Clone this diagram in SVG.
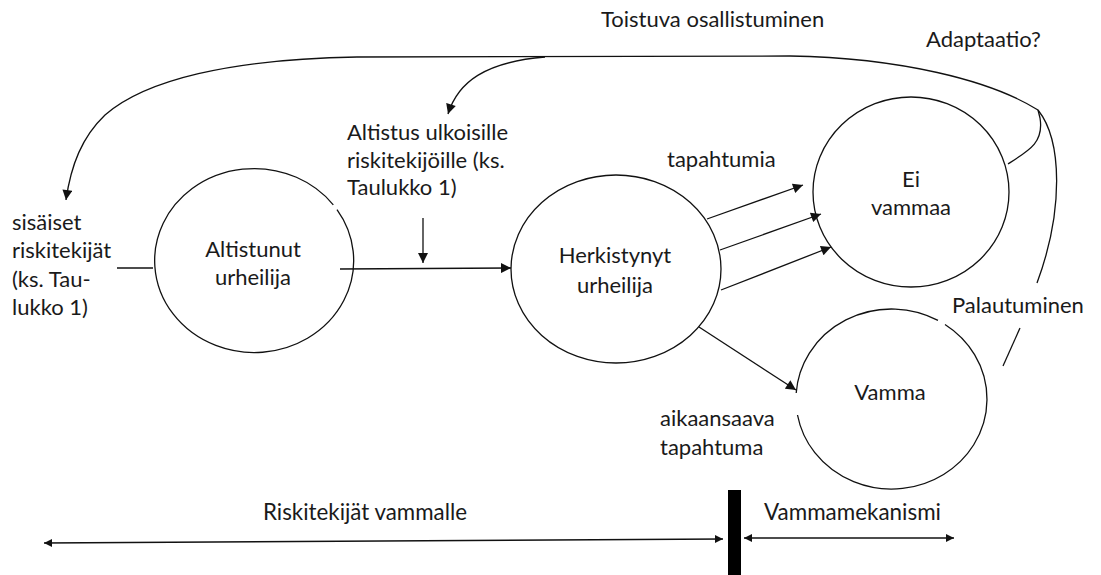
<svg xmlns="http://www.w3.org/2000/svg" width="1101" height="575" viewBox="0 0 1101 575">
<style>
  text { font-family: Lato, "Liberation Sans", sans-serif; font-size: 22px; fill: #1a1a1a; }
  .mid { text-anchor: middle; }
  .node { fill: none; stroke: #111; stroke-width: 1.3; }
  .ln { fill: none; stroke: #111; stroke-width: 1.3; }
  .cond { font-size: 23px; }
</style>
<defs>
  <marker id="ah" viewBox="0 0 10 10" refX="10" refY="5" markerWidth="11" markerHeight="10" markerUnits="userSpaceOnUse" orient="auto">
    <path d="M0,0 L10,5 L0,10 Z" fill="#111"/>
  </marker>
  <marker id="ahs" viewBox="0 0 10 10" refX="10" refY="5" markerWidth="8" markerHeight="10" markerUnits="userSpaceOnUse" orient="auto-start-reverse">
    <path d="M0,0 L10,5 L0,10 Z" fill="#111"/>
  </marker>
</defs>

<g id="connectors">
  <path class="ln" d="M 1038,110 C 990,80 900,58 790,56 L 357,57 C 230,59 145,80 105,115 C 82,137 71,165 66,200" marker-end="url(#ah)"/>
  <path class="ln" d="M 545,57 C 485,62 458,82 448,114" marker-end="url(#ah)"/>
  <path class="ln" d="M 1038,110 C 1062,140 1064,210 1037,283"/>
  <path class="ln" d="M 1008,164 C 1030,150 1044,142 1040,118 L 1038,110"/>
  <path class="ln" d="M 1020,328 L 1003,366"/>
  <path class="ln" d="M 117,268 L 153,268"/>
  <path class="ln" d="M 340,269 L 511,268" marker-end="url(#ah)"/>
  <path class="ln" d="M 423,218 L 423,263" marker-end="url(#ah)"/>
  <path class="ln" d="M 707,219 L 803,185" marker-end="url(#ah)"/>
  <path class="ln" d="M 720,250 L 821,214" marker-end="url(#ah)"/>
  <path class="ln" d="M 721,290 L 831,247" marker-end="url(#ah)"/>
  <path class="ln" d="M 699,327 L 796,390" marker-end="url(#ah)"/>
  <path class="ln" d="M 44,543 L 723,539" marker-start="url(#ahs)" marker-end="url(#ahs)"/>
  <path class="ln" d="M 744,538 L 954,538" marker-start="url(#ahs)" marker-end="url(#ahs)"/>
  <rect x="728" y="490" width="13" height="85" fill="#000"/>
</g>

<g id="altistunut">
  <path class="node" d="M 337.0,209.6 A 99.5 92 0 1 1 333.3,204.8"/>
  <text class="mid" x="253" y="257">Altistunut</text>
  <text class="mid" x="253" y="285">urheilija</text>
</g>

<g id="herkistynyt">
  <ellipse class="node" cx="616" cy="269" rx="105" ry="94"/>
  <text class="mid" x="615" y="263">Herkistynyt</text>
  <text class="mid" x="615" y="293">urheilija</text>
</g>

<g id="eivammaa">
  <ellipse class="node" cx="911" cy="192" rx="98" ry="95"/>
  <text class="mid" x="911" y="187">Ei</text>
  <text class="mid" x="911" y="215">vammaa</text>
</g>

<g id="vamma">
  <path class="node" d="M 945,324.5 A 95.5 90 0 1 1 797.5,415 M 796.2,393 A 95.5 90 0 0 1 938,320.4"/>
  <text class="mid" x="890" y="400">Vamma</text>
</g>

<g id="labels">
  <text x="601" y="27">Toistuva osallistuminen</text>
  <text x="926" y="47">Adaptaatio?</text>
  <text x="347" y="140">Altistus ulkoisille</text>
  <text x="347" y="168">riskitekijöille (ks.</text>
  <text x="347" y="195">Taulukko 1)</text>
  <text x="667" y="167">tapahtumia</text>
  <text x="12" y="230">sisäiset</text>
  <text x="12" y="258">riskitekijät</text>
  <text x="12" y="287">(ks. Tau-</text>
  <text x="12" y="315">lukko 1)</text>
  <text x="952" y="313">Palautuminen</text>
  <text x="660" y="426">aikaansaava</text>
  <text x="660" y="455">tapahtuma</text>
  <text class="cond" x="263" y="520" textLength="204" lengthAdjust="spacingAndGlyphs">Riskitekijät vammalle</text>
  <text class="cond" x="764" y="520" textLength="177" lengthAdjust="spacingAndGlyphs">Vammamekanismi</text>
</g>
</svg>
